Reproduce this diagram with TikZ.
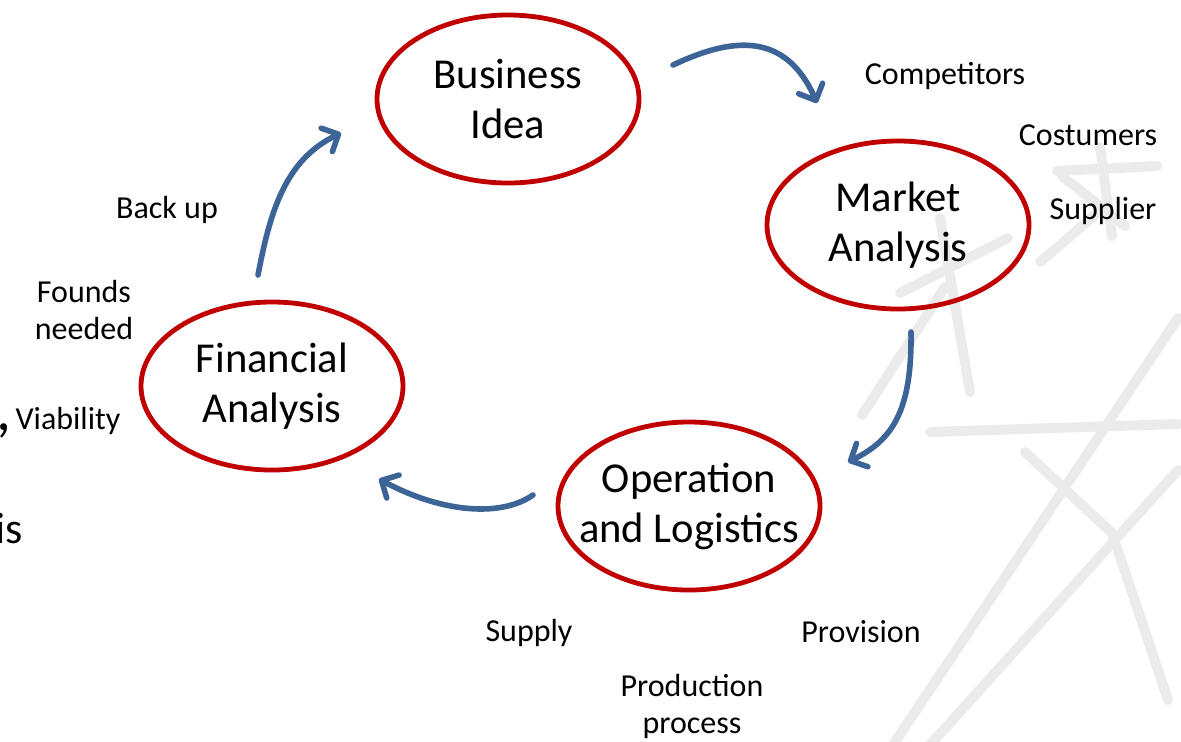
\documentclass[tikz,border=0pt]{standalone}
\usepackage{fontspec}
\setmainfont{Carlito}
\usetikzlibrary{shapes.geometric,arrows.meta}
\definecolor{ringred}{HTML}{C00000}
\definecolor{flowblue}{HTML}{3C6496}
\definecolor{scribble}{HTML}{EBEBEB}
\begin{document}
\begin{tikzpicture}[x=0.5pt,y=-0.5pt,
  stage/.style={ellipse, draw=ringred, line width=2.4pt, minimum width=131pt,
    minimum height=84pt, inner sep=0pt},
  stagetext/.style={align=center, inner sep=0pt,
    font=\fontsize{21.3}{25}\selectfont},
  note/.style={align=center, inner sep=0pt, font=\fontsize{16}{18.5}\selectfont},
  slidetext/.style={inner sep=0pt, font=\fontsize{22}{26}\selectfont},
  flow/.style={draw=flowblue, line width=2.8pt, line cap=round,
    -{Straight Barb[length=6.5pt,width=13pt,round]}},
  scrib/.style={draw=scribble, line width=5pt, line cap=round, line join=round}]
\useasboundingbox (0,0) rectangle (1181,741);

% faint hand-drawn stars in the background
\draw[scrib] (1057,171) -- (1157,166);
\draw[scrib] (1100,147) -- (1112,236);
\draw[scrib] (1040,262) -- (1095,215);
\draw[scrib] (1062,176) -- (1125,226);
\draw[scrib] (900,293) -- (1008,238);
\draw[scrib] (940,218) -- (970,392);
\draw[scrib] (862,415) -- (945,287);
\draw[scrib] (930,432) -- (1178,424);
\draw[scrib] (893,745) -- (1178,318);
\draw[scrib] (930,745) -- (1178,470);
\draw[scrib] (1025,452) -- (1112,533) -- (1168,700);

% cut-off slide text at the left edge
\node[slidetext, anchor=base west, font=\fontsize{30}{34}\selectfont] (edgey) at (-4,430) {,};
\node[slidetext, anchor=base east] (edgeis) at (23,543) {is};

% the four stages
\node[stage, label={[stagetext]center:Business\\Idea}] (idea) at (508,99) {};
\node[stage, label={[stagetext]center:Market\\Analysis}] (mkt) at (898,225) {};
\node[stage, label={[stagetext]center:Operation\\and Logistics}] (ops) at (689,506) {};
\node[stage, label={[stagetext]center:Financial\\Analysis}] (fin) at (272,386) {};

% side notes
\node[note] (comp) at (945,76) {Competitors};
\node[note] (cost) at (1088,135) {Costumers};
\node[note] (supl) at (1103,211) {Supplier};
\node[note] (back) at (167,210) {Back up};
\node[note] (fund) at (84,310) {Founds\\needed};
\node[note] (viab) at (68,421) {Viability};
\node[note] (supp) at (529,633) {Supply};
\node[note] (prov) at (861,632) {Provision};
\node[note] (prod) at (692,706) {Production\\process};

% cycle arrows
\coordinate (a1s) at (673,65);  \coordinate (a1e) at (817,103);
\coordinate (a2s) at (911,332); \coordinate (a2e) at (848,462);
\coordinate (a3s) at (533,495); \coordinate (a3e) at (379,479);
\coordinate (a4s) at (258,275); \coordinate (a4e) at (341,133);
\draw[flow] (a1s) .. controls (730,38) and (785,30) .. (a1e);
\draw[flow] (a2s) .. controls (912,410) and (893,440) .. (a2e);
\draw[flow] (a3s) .. controls (500,518) and (440,512) .. (a3e);
\draw[flow] (a4s) .. controls (270,212) and (285,160) .. (a4e);
\end{tikzpicture}
\end{document}
